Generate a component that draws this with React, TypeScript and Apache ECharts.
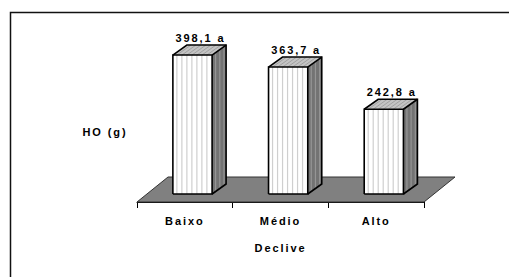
import React, { useEffect, useRef } from "react";
import * as echarts from "echarts";

const categories = ["Baixo", "Médio", "Alto"];
const values = [398.1, 363.7, 242.8];
const letters = ["a", "a", "a"];
const yAxisTitle = "HO (g)";
const xAxisTitle = "Declive";

const FONT = '"Liberation Sans", Arial, sans-serif';
const DX = 14;
const DY = -10;
const LIFT = 8;
const FLOOR_DX = 31;
const FLOOR_DY = -25;

function fmt(v: number, l: string) {
  return v.toFixed(1).replace(".", ",") + " " + l;
}

export default function App() {
  const ref = useRef<HTMLDivElement>(null);
  useEffect(() => {
    if (!ref.current) return;
    const chart = echarts.init(ref.current, undefined, { renderer: "svg" });

    const floorRender = (params: any) => {
      const cs = params.coordSys;
      const x = cs.x, y = cs.y + cs.height, w = cs.width;
      return {
        type: "polygon",
        shape: {
          points: [
            [x, y],
            [x + w, y],
            [x + w + FLOOR_DX, y + FLOOR_DY],
            [x + FLOOR_DX, y + FLOOR_DY],
          ],
        },
        style: { fill: "#808080", stroke: "#333", lineWidth: 1 },
      };
    };

    const barRender = (params: any, api: any) => {
      const idx = api.value(0);
      const val = api.value(1);
      const p = api.coord([idx, val]);
      const p0 = api.coord([idx, 0]);
      const band = api.size([1, 0])[0];
      const w = band * 0.41;
      const off = band * 0.08;
      const L = p[0] + off - w / 2;
      const R = L + w;
      const top = p[1] - LIFT;
      const base = p0[1] - LIFT;
      const children: any[] = [];
      // front face
      children.push({
        type: "rect",
        shape: { x: L, y: top, width: w, height: base - top },
        style: { fill: "#ffffff", stroke: "none" },
      });
      for (let sx = L + 4; sx < R - 2; sx += 5) {
        children.push({
          type: "line",
          shape: { x1: sx, y1: top, x2: sx, y2: base },
          style: { stroke: "#cfcfcf", lineWidth: 1.2 },
        });
      }
      // top face
      children.push({
        type: "polygon",
        shape: { points: [[L, top], [R, top], [R + DX, top + DY], [L + DX, top + DY]] },
        style: { fill: "#c4c4c4", stroke: "none" },
      });
      for (let s = 4; s < w; s += 5) {
        children.push({
          type: "line",
          shape: { x1: L + s, y1: top, x2: L + s + DX, y2: top + DY },
          style: { stroke: "#a0a0a0", lineWidth: 1 },
        });
      }
      // side face
      children.push({
        type: "polygon",
        shape: { points: [[R, top], [R + DX, top + DY], [R + DX, base + DY], [R, base]] },
        style: { fill: "#737373", stroke: "none" },
      });
      for (let t = 0.25; t < 1; t += 0.3) {
        children.push({
          type: "line",
          shape: { x1: R + t * DX, y1: top + t * DY, x2: R + t * DX, y2: base + t * DY },
          style: { stroke: "#959595", lineWidth: 1.2 },
        });
      }
      // outlines
      children.push({
        type: "polyline",
        shape: {
          points: [
            [L, base], [L, top], [R, top], [R, base], [L, base],
          ],
        },
        style: { fill: "none", stroke: "#000", lineWidth: 1.6 },
      });
      children.push({
        type: "polyline",
        shape: {
          points: [
            [L, top], [L + DX, top + DY], [R + DX, top + DY], [R + DX, base + DY], [R, base],
          ],
        },
        style: { fill: "none", stroke: "#000", lineWidth: 1.6 },
      });
      children.push({
        type: "line",
        shape: { x1: R, y1: top, x2: R + DX, y2: top + DY },
        style: { stroke: "#000", lineWidth: 1.6 },
      });
      // value label
      children.push({
        type: "text",
        style: {
          text: fmt(val, letters[idx]),
          x: (L + R + DX) / 2 + 1,
          y: top + DY - 7,
          align: "center",
          verticalAlign: "middle",
          font: `bold 11px ${FONT}`,
          fill: "#000",
        },
      });
      return { type: "group", children };
    };

    chart.setOption({
      animation: false,
      backgroundColor: "#ffffff",
      grid: { left: 137, right: 85, top: 27.5, bottom: 75, containLabel: false },
      xAxis: {
        type: "category",
        data: categories,
        name: xAxisTitle,
        nameLocation: "middle",
        nameGap: 40,
        nameTextStyle: { fontFamily: FONT, fontWeight: "bold", fontSize: 11, color: "#000" },
        axisLine: { show: true, lineStyle: { color: "#000", width: 1 } },
        axisTick: { show: true, length: 6, lineStyle: { color: "#000" } },
        axisLabel: { margin: 13, fontFamily: FONT, fontWeight: "bold", fontSize: 11, color: "#000" },
        splitLine: { show: false },
      },
      yAxis: {
        type: "value",
        min: 0,
        max: 500,
        show: false,
        splitLine: { show: false },
      },
      graphic: [
        {
          type: "rect",
          shape: { x: 10.5, y: 12.5, width: 520, height: 300 },
          style: { fill: "none", stroke: "#111", lineWidth: 1.5 },
          silent: true,
        },
        {
          type: "text",
          style: {
            text: yAxisTitle,
            x: 105,
            y: 132,
            align: "center",
            verticalAlign: "middle",
            font: `bold 11px ${FONT}`,
            fill: "#000",
          },
        },
      ],
      series: [
        {
          type: "custom",
          renderItem: floorRender,
          data: [[0, 0]],
          encode: { x: 0, y: 1 },
          z: 1,
          silent: true,
        },
        {
          type: "custom",
          renderItem: barRender,
          data: values.map((v, i) => [i, v]),
          encode: { x: 0, y: 1 },
          z: 2,
          silent: true,
        },
      ],
    });
    return () => chart.dispose();
  }, []);

  return (
    <>
      <style>{`body{margin:0} .chartbox text{letter-spacing:1.9px}`}</style>
      <div
        ref={ref}
        className="chartbox"
        style={{ position: "fixed", left: 0, top: 0, width: 509, height: 277 }}
      />
    </>
  );
}
